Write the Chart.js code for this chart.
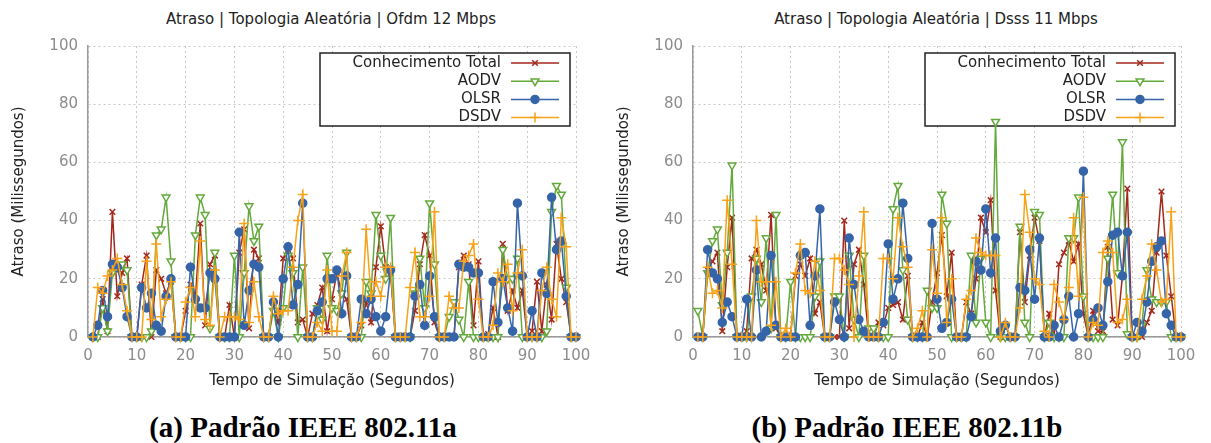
<!DOCTYPE html>
<html>
<head>
<meta charset="utf-8">
<script src="https://cdn.jsdelivr.net/npm/chart.js@4"></script>
<style>
  body { margin: 0; width: 1211px; height: 443px; background: #fff; overflow: hidden; position: relative; font-family: 'DejaVu Sans', sans-serif; }
  canvas { position: absolute; top: 0; }
  .title { position: absolute; top: 10px; font-size: 15px; line-height: 18px; color: #222; text-align: center; white-space: nowrap; }
  .caption { position: absolute; top: 411px; font-family: 'Liberation Serif', serif; font-weight: bold; font-size: 29px; line-height: 32px; color: #000; text-align: center; white-space: nowrap; }
</style>
</head>
<body>
<div class="title" style="left:0; width:662px;">Atraso | Topologia Aleatória | Ofdm 12 Mbps</div>
<div class="title" style="left:605px; width:662px;">Atraso | Topologia Aleatória | Dsss 11 Mbps</div>
<canvas id="chartA" width="605" height="400" style="left:0"></canvas>
<canvas id="chartB" width="605" height="400" style="left:605px"></canvas>
<div class="caption" style="left:0; width:606px;">(a) Padrão IEEE 802.11a</div>
<div class="caption" style="left:604px; width:606px;">(b) Padrão IEEE 802.11b</div>
<script>
// tempo de simulação (s)
const seconds = [1,2,3,4,5,6,7,8,9,10,11,12,13,14,15,16,17,18,19,20,21,22,23,24,25,26,27,28,29,30,
  31,32,33,34,35,36,37,38,39,40,41,42,43,44,45,46,47,48,49,50,51,52,53,54,55,56,57,58,59,60,
  61,62,63,64,65,66,67,68,69,70,71,72,73,74,75,76,77,78,79,80,81,82,83,84,85,86,87,88,89,90,
  91,92,93,94,95,96,97,98,99,100];

const protocolos = ['Conhecimento Total', 'AODV', 'OLSR', 'DSDV'];
const xTicks = [0, 10, 20, 30, 40, 50, 60, 70, 80, 90, 100];
const yTicks = [0, 20, 40, 60, 80, 100];

// 802.11a - Ofdm 12 Mbps
const ofdmTotal = [0,0,13,2,43,14,22,27,0,0, 18,28,0,23,20,15,19,0,0,9, 18,13,39,4,25,28,0,0,11,0,
  29,37,3,30,27,0,0,12,5,27, 31,27,5,6,0,8,11,17,2,13, 22,15,13,0,0,4,12,5,24,38,
  24,22,0,0,0,0,9,25,35,28, 5,0,0,0,0,24,28,25,4,26, 0,1,10,0,32,9,16,10,16,0,
  2,19,2,18,6,32,20,12,0,0];
const ofdmAodv = [0,0,10,2,22,24,25,23,0,0, 0,0,2,35,37,48,26,0,0,0, 0,35,48,42,3,29,0,0,0,28,
  0,22,45,33,38,0,0,9,0,10, 28,22,0,24,0,0,10,6,28,10, 9,15,29,0,0,0,19,15,42,28,
  20,41,0,0,0,0,15,27,10,46, 25,0,0,7,12,6,0,19,0,0, 0,0,0,0,30,20,20,27,0,0,
  0,0,0,2,43,52,49,17,0,0];
const ofdmOlsr = [0,4,16,7,25,24,17,7,0,0, 17,10,15,4,2,14,20,0,0,0, 24,13,10,10,22,20,0,0,0,0,
  36,4,16,25,24,0,0,12,0,20, 31,11,18,46,0,0,9,12,20,20, 23,8,21,0,0,13,8,13,7,2,
  7,23,0,0,0,0,14,18,4,21, 7,0,0,0,0,25,24,24,22,22, 0,0,19,5,20,10,2,46,21,0,
  9,0,22,15,48,30,33,14,0,0];
const ofdmDsdv = [0,17,15,21,23,27,18,9,0,0, 0,26,6,32,7,13,19,0,0,12, 17,7,33,6,4,23,0,7,7,7,
  6,39,5,19,7,0,0,14,8,9, 9,24,40,49,0,0,5,2,23,2, 2,21,29,0,0,5,37,14,19,14,
  24,24,0,0,0,17,29,7,7,14, 43,0,0,14,10,10,26,28,32,13, 0,0,4,22,19,25,9,22,30,0,
  0,0,16,24,13,7,41,31,0,0];

// 802.11b - Dsss 11 Mbps
const dsssTotal = [0,0,23,26,29,2,24,41,0,0, 2,27,30,25,16,42,3,0,0,0, 21,25,21,27,8,12,0,0,0,0,
  40,3,25,30,18,0,0,5,4,10, 11,12,6,21,0,0,5,0,12,22, 35,14,29,0,0,12,8,20,41,36,
  47,16,0,0,0,0,36,12,28,41, 33,0,8,0,25,29,33,26,32,8, 0,9,2,2,31,6,4,21,51,0,
  0,0,5,9,29,50,28,14,0,0];
const dsssAodv = [9,0,22,33,37,11,29,59,0,0, 0,14,27,12,34,3,42,0,0,19, 0,0,0,0,14,26,0,0,14,14,
  0,28,6,0,28,3,3,0,0,0, 44,52,23,6,0,0,0,16,10,10, 49,39,0,0,0,0,28,5,27,5,
  0,74,0,0,0,0,38,5,0,43, 42,0,5,0,0,0,34,34,48,14, 0,0,0,0,27,49,22,67,1,0,
  0,4,23,13,12,12,12,0,0,0];
const dsssOlsr = [0,0,30,22,20,5,12,7,0,0, 13,0,23,0,2,28,4,0,0,0, 0,28,29,4,21,44,0,0,12,6,
  0,34,18,6,2,0,0,0,5,32, 13,20,46,27,0,0,0,0,39,13, 3,5,13,0,0,0,7,26,23,44,
  22,34,2,4,0,0,17,16,30,13, 34,0,0,4,0,6,14,0,8,57, 0,6,10,4,19,35,36,21,36,0,
  5,2,12,26,31,33,8,4,0,0];
const dsssDsdv = [0,0,24,15,16,10,47,25,0,0, 0,0,40,19,19,4,19,0,3,0, 22,32,16,15,26,16,0,0,27,27,
  23,18,0,21,43,0,0,0,27,27, 20,41,31,24,0,3,9,0,30,15, 41,5,20,0,0,13,16,34,29,28,
  28,28,0,5,0,0,10,49,36,20, 18,2,0,18,12,6,17,41,14,48, 0,5,4,29,33,29,5,6,13,0,
  0,13,21,32,23,12,13,43,0,0];

const styles = [
  { color: '#a3281c', pointStyle: 'crossRot', radius: 4, bg: '#a3281c', rot: 0, order: 4 },
  { color: '#64a93c', pointStyle: 'triangle', radius: 4.5, bg: '#ffffff', rot: 180, order: 3 },
  { color: '#3565a8', pointStyle: 'circle', radius: 4, bg: '#3565a8', rot: 0, order: 2 },
  { color: '#f8a21a', pointStyle: 'cross', radius: 5, bg: '#f8a21a', rot: 0, order: 1 },
];

// caixa de legenda desenhada por baixo das linhas
const legendBox = {
  id: 'legendBox',
  beforeDatasetsDraw(chart) {
    const ctx = chart.ctx;
    ctx.save();
    ctx.fillStyle = '#fff';
    ctx.fillRect(320, 53, 250, 73);
    ctx.strokeStyle = '#222';
    ctx.lineWidth = 1.5;
    ctx.strokeRect(320, 53, 250, 73);
    chart.data.datasets.forEach((ds, i) => {
      const y = 63 + i * 18.2;
      ctx.font = '15px "DejaVu Sans"';
      ctx.textAlign = 'right';
      ctx.textBaseline = 'middle';
      ctx.fillStyle = '#222';
      ctx.fillText(ds.label, 501, y);
      ctx.strokeStyle = ds.borderColor;
      ctx.lineWidth = 1.5;
      ctx.beginPath();
      ctx.moveTo(511, y);
      ctx.lineTo(559, y);
      ctx.stroke();
      ctx.fillStyle = ds.pointBackgroundColor;
      Chart.helpers.drawPoint(ctx, {
        pointStyle: ds.pointStyle, radius: ds.pointRadius,
        rotation: ds.pointRotation, borderWidth: 1.5
      }, 535, y);
    });
    ctx.restore();
  }
};

function makeChart(id, series) {
  const datasets = series.map((vals, i) => ({
    label: protocolos[i],
    data: seconds.map((s, k) => ({ x: s, y: vals[k] })),
    borderColor: styles[i].color,
    backgroundColor: styles[i].color,
    pointBackgroundColor: styles[i].bg,
    pointBorderColor: styles[i].color,
    pointStyle: styles[i].pointStyle,
    pointRadius: styles[i].radius,
    pointRotation: styles[i].rot,
    pointBorderWidth: 1.5,
    borderWidth: 1.5,
    tension: 0,
    clip: false,
    order: styles[i].order,
  }));

  return new Chart(document.getElementById(id), {
    type: 'line',
    data: { datasets },
    plugins: [legendBox],
    options: {
      responsive: false,
      animation: false,
      layout: { padding: { top: 46, right: 29, left: 0, bottom: 0 } },
      plugins: { legend: { display: false }, tooltip: { enabled: false } },
      scales: {
        x: {
          type: 'linear', min: 0, max: 100,
          afterBuildTicks: s => { s.ticks = xTicks.map(v => ({ value: v })); },
          afterFit: s => { s.height = 63; },
          grid: { color: '#c8c8c8', lineWidth: 1, drawTicks: false },
          border: { color: '#9a9a9a', width: 1.5, dash: [2, 3] },
          ticks: { color: '#8c8c8c', font: { family: 'DejaVu Sans', size: 15 }, padding: 10, maxRotation: 0 },
          title: { display: true, text: 'Tempo de Simulação (Segundos)', color: '#222',
                   font: { family: 'DejaVu Sans', size: 15 }, padding: { top: 4, bottom: 9.5 } }
        },
        y: {
          min: 0, max: 100,
          afterBuildTicks: s => { s.ticks = yTicks.map(v => ({ value: v })); },
          afterFit: s => { s.width = 88; },
          grid: { color: '#c8c8c8', lineWidth: 1, drawTicks: false },
          border: { color: '#9a9a9a', width: 1.5, dash: [2, 3] },
          ticks: { color: '#8c8c8c', font: { family: 'DejaVu Sans', size: 15 }, padding: 10 },
          title: { display: true, text: 'Atraso (Milissegundos)', color: '#222',
                   font: { family: 'DejaVu Sans', size: 15 }, padding: { top: 10, bottom: 4 } }
        }
      }
    }
  });
}

makeChart('chartA', [ofdmTotal, ofdmAodv, ofdmOlsr, ofdmDsdv]);
makeChart('chartB', [dsssTotal, dsssAodv, dsssOlsr, dsssDsdv]);
</script>
</body>
</html>
